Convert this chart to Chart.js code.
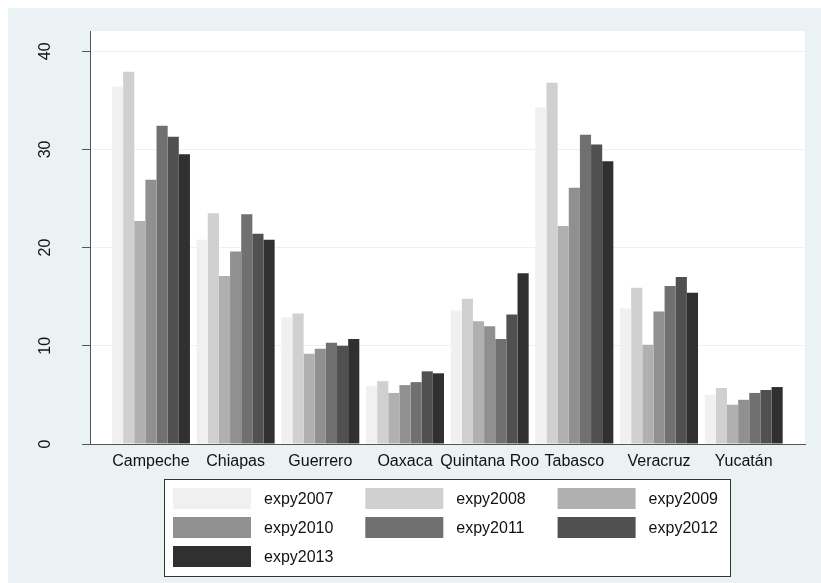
<!DOCTYPE html>
<html>
<head>
<meta charset="utf-8">
<script src="https://cdn.jsdelivr.net/npm/chart.js@4.4.0/dist/chart.umd.min.js"></script>
<style>
  html, body { margin: 0; padding: 0; background: #fff; }
  canvas { display: block; }
</style>
</head>
<body>
<canvas id="expyChart" width="821" height="583"></canvas>
<script>
// ---------- data ----------
const states = ['Campeche', 'Chiapas', 'Guerrero', 'Oaxaca', 'Quintana Roo', 'Tabasco', 'Veracruz', 'Yucatán'];
const seriesNames = ['expy2007', 'expy2008', 'expy2009', 'expy2010', 'expy2011', 'expy2012', 'expy2013'];
const expy2007 = [36.4, 20.8, 12.9, 5.9, 13.6, 34.3, 13.8, 5.0];
const expy2008 = [37.9, 23.5, 13.3, 6.4, 14.8, 36.8, 15.9, 5.7];
const expy2009 = [22.7, 17.1, 9.2, 5.2, 12.5, 22.2, 10.1, 4.0];
const expy2010 = [26.9, 19.6, 9.7, 6.0, 12.0, 26.1, 13.5, 4.5];
const expy2011 = [32.4, 23.4, 10.3, 6.3, 10.7, 31.5, 16.1, 5.2];
const expy2012 = [31.3, 21.4, 10.0, 7.4, 13.2, 30.5, 17.0, 5.5];
const expy2013 = [29.5, 20.8, 10.7, 7.2, 17.4, 28.8, 15.4, 5.8];
const yTicks = [0, 10, 20, 30, 40];

const seriesValues = [expy2007, expy2008, expy2009, expy2010, expy2011, expy2012, expy2013];
const grays = ['#f0f0f0', '#d0d0d0', '#b0b0b0', '#909090', '#707070', '#505050', '#303030'];

// ---------- look ----------
const bluish = '#eaf2f3';
const axisColor = '#555555';
const textColor = '#111111';
Chart.defaults.font.family = '"Liberation Sans", Arial, sans-serif';
Chart.defaults.font.size = 16;
Chart.defaults.color = textColor;

// Stata-like frame: bluish graph region, white plot region
const frame = {
  id: 'frame',
  beforeDraw(chart) {
    const { ctx, width, height, chartArea: a } = chart;
    ctx.save();
    ctx.fillStyle = '#fff';
    ctx.fillRect(0, 0, width, height);
    ctx.fillStyle = bluish;
    ctx.fillRect(8, 8, width - 8, height - 8);
    ctx.fillStyle = '#fff';
    ctx.fillRect(a.left, a.top, a.right - a.left, a.bottom - a.top);
    ctx.restore();
  }
};

// boxed legend, 3 columns
const legendBox = {
  id: 'legendBox',
  afterDraw(chart, args, o) {
    const ctx = chart.ctx;
    ctx.save();
    ctx.fillStyle = '#fff';
    ctx.fillRect(o.x, o.y, o.w, o.h);
    ctx.strokeStyle = '#333';
    ctx.lineWidth = 1;
    ctx.strokeRect(o.x + 0.5, o.y + 0.5, o.w, o.h);
    ctx.font = '16px "Liberation Sans", Arial, sans-serif';
    ctx.textBaseline = 'middle';
    chart.data.datasets.forEach((ds, i) => {
      const sx = o.x + o.padX + (i % 3) * o.colW;
      const sy = o.y + o.padY + Math.floor(i / 3) * o.rowH;
      ctx.fillStyle = ds.backgroundColor;
      ctx.fillRect(sx, sy, o.boxW, o.boxH);
      ctx.fillStyle = textColor;
      ctx.fillText(ds.label, sx + o.boxW + o.gap, sy + o.boxH / 2 + 1);
    });
    ctx.restore();
  }
};

new Chart(document.getElementById('expyChart'), {
  type: 'bar',
  data: {
    datasets: seriesNames.map((name, k) => ({
      label: name,
      data: seriesValues[k].map((v, i) => ({ x: i, y: v })),
      backgroundColor: grays[k],
      borderWidth: 0,
      categoryPercentage: 0.921,
      barPercentage: 1
    }))
  },
  options: {
    responsive: false,
    animation: false,
    devicePixelRatio: 1,
    layout: { padding: { top: 31, right: 16, left: 0, bottom: 0 } },
    plugins: {
      legend: { display: false },
      tooltip: { enabled: false },
      legendBox: { x: 164, y: 479, w: 566, h: 97, padX: 9, padY: 9, colW: 192.3, rowH: 29, boxW: 78, boxH: 21, gap: 13 }
    },
    scales: {
      x: {
        type: 'linear',
        offset: false,
        min: -0.72,
        max: 7.724,
        afterBuildTicks: s => { s.ticks = states.map((_, i) => ({ value: i })); },
        afterFit: s => { s.height = 139; s.paddingLeft = 0; s.paddingRight = 0; },
        grid: { display: false, drawTicks: false },
        border: { color: axisColor, width: 1 },
        ticks: {
          autoSkip: false, maxRotation: 0, minRotation: 0, padding: 8,
          callback: v => states[v]
        }
      },
      y: {
        min: 0,
        max: 42.06,
        afterBuildTicks: s => { s.ticks = yTicks.map(v => ({ value: v })); },
        afterFit: s => { s.width = 90; s.paddingTop = 0; s.paddingBottom = 0; },
        grid: {
          color: c => (c.tick && c.tick.value === 0 ? 'rgba(0,0,0,0)' : bluish),
          tickColor: axisColor,
          tickLength: 8,
          lineWidth: 1
        },
        border: { color: axisColor, width: 1 },
        ticks: { minRotation: 90, maxRotation: 90, crossAlign: 'center', padding: 27.6 }
      }
    }
  },
  plugins: [frame, legendBox]
});
</script>
</body>
</html>
